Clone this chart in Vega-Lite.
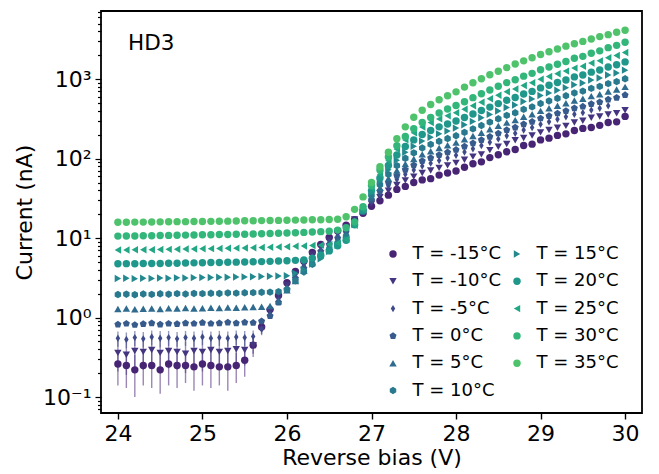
{
"$schema": "https://vega.github.io/schema/vega-lite/v6.json",
"width": 541, "height": 402,
"autosize": {"type": "none"},
"padding": {"left": 101, "top": 11, "right": 17, "bottom": 61},
"background": "white",
"title": {"text": "HD3", "anchor": "start", "frame": "group", "orient": "top", "offset": -41, "dx": 27, "dy": 30, "fontSize": 21.5, "fontWeight": "normal", "baseline": "alphabetic", "color": "black", "font": "DejaVu Sans"},
"config": {
 "font": "DejaVu Sans",
 "view": {"stroke": "black", "strokeWidth": 1.8},
 "axis": {"domain": false, "grid": false, "tickColor": "black", "labelColor": "black", "titleColor": "black", "labelFontSize": 22, "titleFontSize": 22, "titleFontWeight": "normal"}
},
"data": {"values": [
{"T":"-15","V":24,"I":0.26,"lo":0.14,"hi":0.38},{"T":"-15","V":24.1,"I":0.25,"lo":0.13,"hi":0.37},{"T":"-15","V":24.2,"I":0.22,"lo":0.1,"hi":0.34},{"T":"-15","V":24.3,"I":0.25,"lo":0.14,"hi":0.36},{"T":"-15","V":24.4,"I":0.25,"lo":0.13,"hi":0.37},{"T":"-15","V":24.5,"I":0.22,"lo":0.11,"hi":0.35},{"T":"-15","V":24.6,"I":0.26,"lo":0.14,"hi":0.38},{"T":"-15","V":24.7,"I":0.25,"lo":0.13,"hi":0.36},{"T":"-15","V":24.8,"I":0.25,"lo":0.15,"hi":0.36},{"T":"-15","V":24.9,"I":0.24,"lo":0.12,"hi":0.36},{"T":"-15","V":25,"I":0.26,"lo":0.14,"hi":0.37},{"T":"-15","V":25.1,"I":0.25,"lo":0.13,"hi":0.38},{"T":"-15","V":25.2,"I":0.24,"lo":0.14,"hi":0.35},{"T":"-15","V":25.3,"I":0.24,"lo":0.12,"hi":0.36},{"T":"-15","V":25.4,"I":0.25,"lo":0.15,"hi":0.36},{"T":"-15","V":25.5,"I":0.29,"lo":0.18,"hi":0.4},{"T":"-15","V":25.6,"I":0.45,"lo":0.35,"hi":0.55},{"T":"-15","V":25.7,"I":0.76,"lo":0.66,"hi":0.86},{"T":"-15","V":25.8,"I":1.26,"lo":1.16,"hi":1.36},{"T":"-15","V":25.9,"I":1.9},{"T":"-15","V":26,"I":2.75},{"T":"-15","V":26.1,"I":3.8},{"T":"-15","V":26.2,"I":5.1},{"T":"-15","V":26.3,"I":6.6},{"T":"-15","V":26.4,"I":8.3},{"T":"-15","V":26.5,"I":10.2},{"T":"-15","V":26.6,"I":12.3},{"T":"-15","V":26.7,"I":14.5},{"T":"-15","V":26.8,"I":17},{"T":"-15","V":26.9,"I":20.5},{"T":"-15","V":27,"I":25.1},{"T":"-15","V":27.1,"I":29.5},{"T":"-15","V":27.2,"I":34.7},{"T":"-15","V":27.3,"I":41},{"T":"-15","V":27.4,"I":44.7},{"T":"-15","V":27.5,"I":50},{"T":"-15","V":27.6,"I":54},{"T":"-15","V":27.7,"I":56},{"T":"-15","V":27.8,"I":62},{"T":"-15","V":27.9,"I":66},{"T":"-15","V":28,"I":70},{"T":"-15","V":28.1,"I":78},{"T":"-15","V":28.2,"I":86},{"T":"-15","V":28.3,"I":91},{"T":"-15","V":28.4,"I":103},{"T":"-15","V":28.5,"I":112},{"T":"-15","V":28.6,"I":122},{"T":"-15","V":28.7,"I":130},{"T":"-15","V":28.8,"I":146},{"T":"-15","V":28.9,"I":152},{"T":"-15","V":29,"I":172},{"T":"-15","V":29.1,"I":181},{"T":"-15","V":29.2,"I":196},{"T":"-15","V":29.3,"I":205},{"T":"-15","V":29.4,"I":226},{"T":"-15","V":29.5,"I":240},{"T":"-15","V":29.6,"I":246},{"T":"-15","V":29.7,"I":262},{"T":"-15","V":29.8,"I":285},{"T":"-15","V":29.9,"I":290},{"T":"-15","V":30,"I":340},
{"T":"-10","V":24,"I":0.36,"lo":0.21,"hi":0.51},{"T":"-10","V":24.1,"I":0.34,"lo":0.19,"hi":0.5},{"T":"-10","V":24.2,"I":0.38,"lo":0.22,"hi":0.53},{"T":"-10","V":24.3,"I":0.37,"lo":0.22,"hi":0.52},{"T":"-10","V":24.4,"I":0.39,"lo":0.24,"hi":0.54},{"T":"-10","V":24.5,"I":0.36,"lo":0.2,"hi":0.51},{"T":"-10","V":24.6,"I":0.38,"lo":0.23,"hi":0.53},{"T":"-10","V":24.7,"I":0.37,"lo":0.22,"hi":0.51},{"T":"-10","V":24.8,"I":0.35,"lo":0.2,"hi":0.5},{"T":"-10","V":24.9,"I":0.38,"lo":0.23,"hi":0.54},{"T":"-10","V":25,"I":0.37,"lo":0.21,"hi":0.52},{"T":"-10","V":25.1,"I":0.39,"lo":0.24,"hi":0.54},{"T":"-10","V":25.2,"I":0.37,"lo":0.22,"hi":0.52},{"T":"-10","V":25.3,"I":0.38,"lo":0.23,"hi":0.53},{"T":"-10","V":25.4,"I":0.4,"lo":0.25,"hi":0.55},{"T":"-10","V":25.5,"I":0.39,"lo":0.25,"hi":0.53},{"T":"-10","V":25.6,"I":0.45,"lo":0.32,"hi":0.58},{"T":"-10","V":25.7,"I":0.71,"lo":0.6,"hi":0.82},{"T":"-10","V":25.8,"I":1.17,"lo":1.07,"hi":1.27},{"T":"-10","V":25.9,"I":1.78},{"T":"-10","V":26,"I":2.57},{"T":"-10","V":26.1,"I":3.55},{"T":"-10","V":26.2,"I":4.8},{"T":"-10","V":26.3,"I":6.2},{"T":"-10","V":26.4,"I":7.8},{"T":"-10","V":26.5,"I":9.5},{"T":"-10","V":26.6,"I":11.5},{"T":"-10","V":26.7,"I":13.8},{"T":"-10","V":26.8,"I":17.2},{"T":"-10","V":26.9,"I":21.1},{"T":"-10","V":27,"I":26.9},{"T":"-10","V":27.1,"I":32.7},{"T":"-10","V":27.2,"I":39.5},{"T":"-10","V":27.3,"I":46.6},{"T":"-10","V":27.4,"I":53.3},{"T":"-10","V":27.5,"I":59.4},{"T":"-10","V":27.6,"I":65.8},{"T":"-10","V":27.7,"I":71},{"T":"-10","V":27.8,"I":76.5},{"T":"-10","V":27.9,"I":82.2},{"T":"-10","V":28,"I":88.3},{"T":"-10","V":28.1,"I":96.9},{"T":"-10","V":28.2,"I":106},{"T":"-10","V":28.3,"I":113},{"T":"-10","V":28.4,"I":128},{"T":"-10","V":28.5,"I":141},{"T":"-10","V":28.6,"I":153},{"T":"-10","V":28.7,"I":170},{"T":"-10","V":28.8,"I":182},{"T":"-10","V":28.9,"I":195},{"T":"-10","V":29,"I":214},{"T":"-10","V":29.1,"I":229},{"T":"-10","V":29.2,"I":245},{"T":"-10","V":29.3,"I":258},{"T":"-10","V":29.4,"I":285},{"T":"-10","V":29.5,"I":299},{"T":"-10","V":29.6,"I":326},{"T":"-10","V":29.7,"I":339},{"T":"-10","V":29.8,"I":359},{"T":"-10","V":29.9,"I":372},{"T":"-10","V":30,"I":407},
{"T":"-5","V":24,"I":0.55,"lo":0.43,"hi":0.67},{"T":"-5","V":24.1,"I":0.53,"lo":0.41,"hi":0.65},{"T":"-5","V":24.2,"I":0.56,"lo":0.44,"hi":0.68},{"T":"-5","V":24.3,"I":0.54,"lo":0.42,"hi":0.66},{"T":"-5","V":24.4,"I":0.57,"lo":0.45,"hi":0.69},{"T":"-5","V":24.5,"I":0.55,"lo":0.42,"hi":0.68},{"T":"-5","V":24.6,"I":0.56,"lo":0.44,"hi":0.68},{"T":"-5","V":24.7,"I":0.54,"lo":0.43,"hi":0.66},{"T":"-5","V":24.8,"I":0.56,"lo":0.44,"hi":0.68},{"T":"-5","V":24.9,"I":0.55,"lo":0.43,"hi":0.67},{"T":"-5","V":25,"I":0.57,"lo":0.45,"hi":0.69},{"T":"-5","V":25.1,"I":0.55,"lo":0.43,"hi":0.67},{"T":"-5","V":25.2,"I":0.56,"lo":0.44,"hi":0.68},{"T":"-5","V":25.3,"I":0.55,"lo":0.43,"hi":0.67},{"T":"-5","V":25.4,"I":0.57,"lo":0.45,"hi":0.69},{"T":"-5","V":25.5,"I":0.56,"lo":0.44,"hi":0.68},{"T":"-5","V":25.6,"I":0.58,"lo":0.47,"hi":0.69},{"T":"-5","V":25.7,"I":0.72,"lo":0.62,"hi":0.82},{"T":"-5","V":25.8,"I":1.1},{"T":"-5","V":25.9,"I":1.66},{"T":"-5","V":26,"I":2.4},{"T":"-5","V":26.1,"I":3.3},{"T":"-5","V":26.2,"I":4.5},{"T":"-5","V":26.3,"I":5.8},{"T":"-5","V":26.4,"I":7.2},{"T":"-5","V":26.5,"I":8.9},{"T":"-5","V":26.6,"I":10.7},{"T":"-5","V":26.7,"I":12.9},{"T":"-5","V":26.8,"I":16.6},{"T":"-5","V":26.9,"I":21.9},{"T":"-5","V":27,"I":28.8},{"T":"-5","V":27.1,"I":36.1},{"T":"-5","V":27.2,"I":45.1},{"T":"-5","V":27.3,"I":54.5},{"T":"-5","V":27.4,"I":63.7},{"T":"-5","V":27.5,"I":72},{"T":"-5","V":27.6,"I":80.5},{"T":"-5","V":27.7,"I":87.7},{"T":"-5","V":27.8,"I":94.8},{"T":"-5","V":27.9,"I":102},{"T":"-5","V":28,"I":110},{"T":"-5","V":28.1,"I":121},{"T":"-5","V":28.2,"I":133},{"T":"-5","V":28.3,"I":146},{"T":"-5","V":28.4,"I":161},{"T":"-5","V":28.5,"I":177},{"T":"-5","V":28.6,"I":194},{"T":"-5","V":28.7,"I":208},{"T":"-5","V":28.8,"I":229},{"T":"-5","V":28.9,"I":246},{"T":"-5","V":29,"I":270},{"T":"-5","V":29.1,"I":291},{"T":"-5","V":29.2,"I":313},{"T":"-5","V":29.3,"I":336},{"T":"-5","V":29.4,"I":361},{"T":"-5","V":29.5,"I":379},{"T":"-5","V":29.6,"I":408},{"T":"-5","V":29.7,"I":430},{"T":"-5","V":29.8,"I":463},
{"T":"0","V":24,"I":0.82},{"T":"0","V":24.1,"I":0.84},{"T":"0","V":24.2,"I":0.81},{"T":"0","V":24.3,"I":0.83},{"T":"0","V":24.4,"I":0.85},{"T":"0","V":24.5,"I":0.82},{"T":"0","V":24.6,"I":0.84},{"T":"0","V":24.7,"I":0.83},{"T":"0","V":24.8,"I":0.85},{"T":"0","V":24.9,"I":0.84},{"T":"0","V":25,"I":0.86},{"T":"0","V":25.1,"I":0.84},{"T":"0","V":25.2,"I":0.85},{"T":"0","V":25.3,"I":0.87},{"T":"0","V":25.4,"I":0.85},{"T":"0","V":25.5,"I":0.87},{"T":"0","V":25.6,"I":0.86},{"T":"0","V":25.7,"I":0.9},{"T":"0","V":25.8,"I":1.05},{"T":"0","V":25.9,"I":1.55},{"T":"0","V":26,"I":2.24},{"T":"0","V":26.1,"I":3.1},{"T":"0","V":26.2,"I":4.17},{"T":"0","V":26.3,"I":5.4},{"T":"0","V":26.4,"I":6.8},{"T":"0","V":26.5,"I":8.3},{"T":"0","V":26.6,"I":10},{"T":"0","V":26.7,"I":12},{"T":"0","V":26.8,"I":15.7},{"T":"0","V":26.9,"I":21.5},{"T":"0","V":27,"I":30.3},{"T":"0","V":27.1,"I":38.9},{"T":"0","V":27.2,"I":49.7},{"T":"0","V":27.3,"I":61.1},{"T":"0","V":27.4,"I":72.4},{"T":"0","V":27.5,"I":82.8},{"T":"0","V":27.6,"I":93.3},{"T":"0","V":27.7,"I":102},{"T":"0","V":27.8,"I":111},{"T":"0","V":27.9,"I":120},{"T":"0","V":28,"I":129},{"T":"0","V":28.1,"I":142},{"T":"0","V":28.2,"I":156},{"T":"0","V":28.3,"I":172},{"T":"0","V":28.4,"I":189},{"T":"0","V":28.5,"I":208},{"T":"0","V":28.6,"I":229},{"T":"0","V":28.7,"I":247},{"T":"0","V":28.8,"I":271},{"T":"0","V":28.9,"I":292},{"T":"0","V":29,"I":321},{"T":"0","V":29.1,"I":345},{"T":"0","V":29.2,"I":371},{"T":"0","V":29.3,"I":398},{"T":"0","V":29.4,"I":430},{"T":"0","V":29.5,"I":452},{"T":"0","V":29.6,"I":488},{"T":"0","V":29.7,"I":514},{"T":"0","V":29.8,"I":555},{"T":"0","V":29.9,"I":585},{"T":"0","V":30,"I":631},
{"T":"5","V":24,"I":1.28},{"T":"5","V":24.1,"I":1.3},{"T":"5","V":24.2,"I":1.27},{"T":"5","V":24.3,"I":1.29},{"T":"5","V":24.4,"I":1.3},{"T":"5","V":24.5,"I":1.28},{"T":"5","V":24.6,"I":1.31},{"T":"5","V":24.7,"I":1.3},{"T":"5","V":24.8,"I":1.32},{"T":"5","V":24.9,"I":1.3},{"T":"5","V":25,"I":1.31},{"T":"5","V":25.1,"I":1.33},{"T":"5","V":25.2,"I":1.32},{"T":"5","V":25.3,"I":1.34},{"T":"5","V":25.4,"I":1.33},{"T":"5","V":25.5,"I":1.35},{"T":"5","V":25.6,"I":1.36},{"T":"5","V":25.7,"I":1.37},{"T":"5","V":25.8,"I":1.4},{"T":"5","V":25.9,"I":1.6},{"T":"5","V":26,"I":2.2},{"T":"5","V":26.1,"I":2.88},{"T":"5","V":26.2,"I":3.9},{"T":"5","V":26.3,"I":5},{"T":"5","V":26.4,"I":6.3},{"T":"5","V":26.5,"I":7.8},{"T":"5","V":26.6,"I":9.3},{"T":"5","V":26.7,"I":11.2},{"T":"5","V":26.8,"I":15.1},{"T":"5","V":26.9,"I":21.7},{"T":"5","V":27,"I":32.3},{"T":"5","V":27.1,"I":42.8},{"T":"5","V":27.2,"I":56.2},{"T":"5","V":27.3,"I":70.8},{"T":"5","V":27.4,"I":85.5},{"T":"5","V":27.5,"I":99},{"T":"5","V":27.6,"I":113},{"T":"5","V":27.7,"I":124},{"T":"5","V":27.8,"I":136},{"T":"5","V":27.9,"I":147},{"T":"5","V":28,"I":159},{"T":"5","V":28.1,"I":175},{"T":"5","V":28.2,"I":193},{"T":"5","V":28.3,"I":212},{"T":"5","V":28.4,"I":234},{"T":"5","V":28.5,"I":258},{"T":"5","V":28.6,"I":284},{"T":"5","V":28.7,"I":305},{"T":"5","V":28.8,"I":337},{"T":"5","V":28.9,"I":362},{"T":"5","V":29,"I":399},{"T":"5","V":29.1,"I":430},{"T":"5","V":29.2,"I":462},{"T":"5","V":29.3,"I":498},{"T":"5","V":29.4,"I":538},{"T":"5","V":29.5,"I":566},{"T":"5","V":29.6,"I":612},{"T":"5","V":29.7,"I":647},{"T":"5","V":29.8,"I":700},{"T":"5","V":29.9,"I":740},{"T":"5","V":30,"I":800},
{"T":"10","V":24,"I":1.95},{"T":"10","V":24.1,"I":1.97},{"T":"10","V":24.2,"I":1.94},{"T":"10","V":24.3,"I":1.98},{"T":"10","V":24.4,"I":1.96},{"T":"10","V":24.5,"I":1.99},{"T":"10","V":24.6,"I":1.97},{"T":"10","V":24.7,"I":2},{"T":"10","V":24.8,"I":1.98},{"T":"10","V":24.9,"I":2.01},{"T":"10","V":25,"I":2},{"T":"10","V":25.1,"I":2.02},{"T":"10","V":25.2,"I":2.01},{"T":"10","V":25.3,"I":2.04},{"T":"10","V":25.4,"I":2.03},{"T":"10","V":25.5,"I":2.05},{"T":"10","V":25.6,"I":2.06},{"T":"10","V":25.7,"I":2.08},{"T":"10","V":25.8,"I":2.09},{"T":"10","V":25.9,"I":2.12},{"T":"10","V":26,"I":2.25},{"T":"10","V":26.1,"I":2.9},{"T":"10","V":26.2,"I":3.75},{"T":"10","V":26.3,"I":4.68},{"T":"10","V":26.4,"I":5.9},{"T":"10","V":26.5,"I":7.2},{"T":"10","V":26.6,"I":8.7},{"T":"10","V":26.7,"I":10.5},{"T":"10","V":26.8,"I":15},{"T":"10","V":26.9,"I":21.9},{"T":"10","V":27,"I":34.4},{"T":"10","V":27.1,"I":47},{"T":"10","V":27.2,"I":63.4},{"T":"10","V":27.3,"I":81.7},{"T":"10","V":27.4,"I":101},{"T":"10","V":27.5,"I":118},{"T":"10","V":27.6,"I":136},{"T":"10","V":27.7,"I":151},{"T":"10","V":27.8,"I":165},{"T":"10","V":27.9,"I":179},{"T":"10","V":28,"I":194},{"T":"10","V":28.1,"I":214},{"T":"10","V":28.2,"I":237},{"T":"10","V":28.3,"I":261},{"T":"10","V":28.4,"I":288},{"T":"10","V":28.5,"I":317},{"T":"10","V":28.6,"I":350},{"T":"10","V":28.7,"I":377},{"T":"10","V":28.8,"I":416},{"T":"10","V":28.9,"I":448},{"T":"10","V":29,"I":494},{"T":"10","V":29.1,"I":532},{"T":"10","V":29.2,"I":574},{"T":"10","V":29.3,"I":618},{"T":"10","V":29.4,"I":670},{"T":"10","V":29.5,"I":706},{"T":"10","V":29.6,"I":766},{"T":"10","V":29.7,"I":811},{"T":"10","V":29.8,"I":879},{"T":"10","V":29.9,"I":931},{"T":"10","V":30,"I":1009},
{"T":"15","V":24,"I":3.1},{"T":"15","V":24.1,"I":3.12},{"T":"15","V":24.2,"I":3.09},{"T":"15","V":24.3,"I":3.13},{"T":"15","V":24.4,"I":3.11},{"T":"15","V":24.5,"I":3.15},{"T":"15","V":24.6,"I":3.13},{"T":"15","V":24.7,"I":3.16},{"T":"15","V":24.8,"I":3.15},{"T":"15","V":24.9,"I":3.18},{"T":"15","V":25,"I":3.2},{"T":"15","V":25.1,"I":3.19},{"T":"15","V":25.2,"I":3.22},{"T":"15","V":25.3,"I":3.21},{"T":"15","V":25.4,"I":3.24},{"T":"15","V":25.5,"I":3.25},{"T":"15","V":25.6,"I":3.27},{"T":"15","V":25.7,"I":3.29},{"T":"15","V":25.8,"I":3.31},{"T":"15","V":25.9,"I":3.33},{"T":"15","V":26,"I":3.36},{"T":"15","V":26.1,"I":3.6},{"T":"15","V":26.2,"I":4},{"T":"15","V":26.3,"I":4.7},{"T":"15","V":26.4,"I":5.5},{"T":"15","V":26.5,"I":6.8},{"T":"15","V":26.6,"I":8.1},{"T":"15","V":26.7,"I":9.8},{"T":"15","V":26.8,"I":14.8},{"T":"15","V":26.9,"I":22.2},{"T":"15","V":27,"I":36.8},{"T":"15","V":27.1,"I":51.9},{"T":"15","V":27.2,"I":72.3},{"T":"15","V":27.3,"I":95.5},{"T":"15","V":27.4,"I":120},{"T":"15","V":27.5,"I":143},{"T":"15","V":27.6,"I":166},{"T":"15","V":27.7,"I":186},{"T":"15","V":27.8,"I":205},{"T":"15","V":27.9,"I":222},{"T":"15","V":28,"I":242},{"T":"15","V":28.1,"I":267},{"T":"15","V":28.2,"I":294},{"T":"15","V":28.3,"I":326},{"T":"15","V":28.4,"I":360},{"T":"15","V":28.5,"I":397},{"T":"15","V":28.6,"I":439},{"T":"15","V":28.7,"I":473},{"T":"15","V":28.8,"I":522},{"T":"15","V":28.9,"I":564},{"T":"15","V":29,"I":622},{"T":"15","V":29.1,"I":671},{"T":"15","V":29.2,"I":724},{"T":"15","V":29.3,"I":782},{"T":"15","V":29.4,"I":849},{"T":"15","V":29.5,"I":895},{"T":"15","V":29.6,"I":973},{"T":"15","V":29.7,"I":1035},{"T":"15","V":29.8,"I":1125},{"T":"15","V":29.9,"I":1194},{"T":"15","V":30,"I":1297},
{"T":"20","V":24,"I":4.75},{"T":"20","V":24.1,"I":4.77},{"T":"20","V":24.2,"I":4.76},{"T":"20","V":24.3,"I":4.79},{"T":"20","V":24.4,"I":4.78},{"T":"20","V":24.5,"I":4.8},{"T":"20","V":24.6,"I":4.82},{"T":"20","V":24.7,"I":4.83},{"T":"20","V":24.8,"I":4.85},{"T":"20","V":24.9,"I":4.88},{"T":"20","V":25,"I":4.9},{"T":"20","V":25.1,"I":4.92},{"T":"20","V":25.2,"I":4.94},{"T":"20","V":25.3,"I":4.96},{"T":"20","V":25.4,"I":4.98},{"T":"20","V":25.5,"I":5},{"T":"20","V":25.6,"I":5.03},{"T":"20","V":25.7,"I":5.06},{"T":"20","V":25.8,"I":5.1},{"T":"20","V":25.9,"I":5.15},{"T":"20","V":26,"I":5.2},{"T":"20","V":26.1,"I":5.25},{"T":"20","V":26.2,"I":5.3},{"T":"20","V":26.3,"I":5.6},{"T":"20","V":26.4,"I":6.1},{"T":"20","V":26.5,"I":6.9},{"T":"20","V":26.6,"I":8},{"T":"20","V":26.7,"I":9.4},{"T":"20","V":26.8,"I":14.7},{"T":"20","V":26.9,"I":22.4},{"T":"20","V":27,"I":39.3},{"T":"20","V":27.1,"I":57.1},{"T":"20","V":27.2,"I":81.8},{"T":"20","V":27.3,"I":111},{"T":"20","V":27.4,"I":142},{"T":"20","V":27.5,"I":172},{"T":"20","V":27.6,"I":201},{"T":"20","V":27.7,"I":226},{"T":"20","V":27.8,"I":251},{"T":"20","V":27.9,"I":273},{"T":"20","V":28,"I":298},{"T":"20","V":28.1,"I":329},{"T":"20","V":28.2,"I":364},{"T":"20","V":28.3,"I":403},{"T":"20","V":28.4,"I":445},{"T":"20","V":28.5,"I":492},{"T":"20","V":28.6,"I":543},{"T":"20","V":28.7,"I":587},{"T":"20","V":28.8,"I":649},{"T":"20","V":28.9,"I":701},{"T":"20","V":29,"I":776},{"T":"20","V":29.1,"I":838},{"T":"20","V":29.2,"I":906},{"T":"20","V":29.3,"I":977},{"T":"20","V":29.4,"I":1067},{"T":"20","V":29.5,"I":1125},{"T":"20","V":29.6,"I":1225},{"T":"20","V":29.7,"I":1303},{"T":"20","V":29.8,"I":1422},{"T":"20","V":29.9,"I":1514},{"T":"20","V":30,"I":1648},
{"T":"25","V":24,"I":7.1},{"T":"25","V":24.1,"I":7.08},{"T":"25","V":24.2,"I":7.12},{"T":"25","V":24.3,"I":7.15},{"T":"25","V":24.4,"I":7.13},{"T":"25","V":24.5,"I":7.2},{"T":"25","V":24.6,"I":7.22},{"T":"25","V":24.7,"I":7.25},{"T":"25","V":24.8,"I":7.28},{"T":"25","V":24.9,"I":7.3},{"T":"25","V":25,"I":7.35},{"T":"25","V":25.1,"I":7.37},{"T":"25","V":25.2,"I":7.4},{"T":"25","V":25.3,"I":7.44},{"T":"25","V":25.4,"I":7.47},{"T":"25","V":25.5,"I":7.5},{"T":"25","V":25.6,"I":7.55},{"T":"25","V":25.7,"I":7.6},{"T":"25","V":25.8,"I":7.66},{"T":"25","V":25.9,"I":7.72},{"T":"25","V":26,"I":7.8},{"T":"25","V":26.1,"I":7.88},{"T":"25","V":26.2,"I":7.96},{"T":"25","V":26.3,"I":8.05},{"T":"25","V":26.4,"I":8.15},{"T":"25","V":26.5,"I":8.3},{"T":"25","V":26.6,"I":8.7},{"T":"25","V":26.7,"I":9.6},{"T":"25","V":26.8,"I":14.5},{"T":"25","V":26.9,"I":22.8},{"T":"25","V":27,"I":42.2},{"T":"25","V":27.1,"I":63.7},{"T":"25","V":27.2,"I":94.2},{"T":"25","V":27.3,"I":131},{"T":"25","V":27.4,"I":172},{"T":"25","V":27.5,"I":211},{"T":"25","V":27.6,"I":250},{"T":"25","V":27.7,"I":284},{"T":"25","V":27.8,"I":316},{"T":"25","V":27.9,"I":345},{"T":"25","V":28,"I":377},{"T":"25","V":28.1,"I":418},{"T":"25","V":28.2,"I":462},{"T":"25","V":28.3,"I":512},{"T":"25","V":28.4,"I":566},{"T":"25","V":28.5,"I":627},{"T":"25","V":28.6,"I":695},{"T":"25","V":28.7,"I":752},{"T":"25","V":28.8,"I":832},{"T":"25","V":28.9,"I":899},{"T":"25","V":29,"I":995},{"T":"25","V":29.1,"I":1077},{"T":"25","V":29.2,"I":1167},{"T":"25","V":29.3,"I":1262},{"T":"25","V":29.4,"I":1377},{"T":"25","V":29.5,"I":1455},{"T":"25","V":29.6,"I":1592},{"T":"25","V":29.7,"I":1698},{"T":"25","V":29.8,"I":1854},{"T":"25","V":29.9,"I":1982},{"T":"25","V":30,"I":2163},
{"T":"30","V":24,"I":10.6},{"T":"30","V":24.1,"I":10.62},{"T":"30","V":24.2,"I":10.65},{"T":"30","V":24.3,"I":10.68},{"T":"30","V":24.4,"I":10.7},{"T":"30","V":24.5,"I":10.8},{"T":"30","V":24.6,"I":10.82},{"T":"30","V":24.7,"I":10.86},{"T":"30","V":24.8,"I":10.9},{"T":"30","V":24.9,"I":10.95},{"T":"30","V":25,"I":11},{"T":"30","V":25.1,"I":11.04},{"T":"30","V":25.2,"I":11.08},{"T":"30","V":25.3,"I":11.12},{"T":"30","V":25.4,"I":11.16},{"T":"30","V":25.5,"I":11.2},{"T":"30","V":25.6,"I":11.28},{"T":"30","V":25.7,"I":11.35},{"T":"30","V":25.8,"I":11.42},{"T":"30","V":25.9,"I":11.5},{"T":"30","V":26,"I":11.6},{"T":"30","V":26.1,"I":11.7},{"T":"30","V":26.2,"I":11.8},{"T":"30","V":26.3,"I":11.95},{"T":"30","V":26.4,"I":12.05},{"T":"30","V":26.5,"I":12.2},{"T":"30","V":26.6,"I":12.6},{"T":"30","V":26.7,"I":13.5},{"T":"30","V":26.8,"I":16},{"T":"30","V":26.9,"I":24.8},{"T":"30","V":27,"I":45.8},{"T":"30","V":27.1,"I":71.8},{"T":"30","V":27.2,"I":105},{"T":"30","V":27.3,"I":145},{"T":"30","V":27.4,"I":190},{"T":"30","V":27.5,"I":238},{"T":"30","V":27.6,"I":285},{"T":"30","V":27.7,"I":330},{"T":"30","V":27.8,"I":375},{"T":"30","V":27.9,"I":420},{"T":"30","V":28,"I":465},{"T":"30","V":28.1,"I":520},{"T":"30","V":28.2,"I":585},{"T":"30","V":28.3,"I":655},{"T":"30","V":28.4,"I":730},{"T":"30","V":28.5,"I":815},{"T":"30","V":28.6,"I":905},{"T":"30","V":28.7,"I":984},{"T":"30","V":28.8,"I":1091},{"T":"30","V":28.9,"I":1183},{"T":"30","V":29,"I":1312},{"T":"30","V":29.1,"I":1422},{"T":"30","V":29.2,"I":1538},{"T":"30","V":29.3,"I":1667},{"T":"30","V":29.4,"I":1828},{"T":"30","V":29.5,"I":1936},{"T":"30","V":29.6,"I":2118},{"T":"30","V":29.7,"I":2270},{"T":"30","V":29.8,"I":2489},{"T":"30","V":29.9,"I":2661},{"T":"30","V":30,"I":2917},
{"T":"35","V":24,"I":15.8},{"T":"35","V":24.1,"I":15.85},{"T":"35","V":24.2,"I":15.9},{"T":"35","V":24.3,"I":15.9},{"T":"35","V":24.4,"I":15.95},{"T":"35","V":24.5,"I":16},{"T":"35","V":24.6,"I":16.05},{"T":"35","V":24.7,"I":16.1},{"T":"35","V":24.8,"I":16.1},{"T":"35","V":24.9,"I":16.15},{"T":"35","V":25,"I":16.2},{"T":"35","V":25.1,"I":16.25},{"T":"35","V":25.2,"I":16.3},{"T":"35","V":25.3,"I":16.35},{"T":"35","V":25.4,"I":16.4},{"T":"35","V":25.5,"I":16.5},{"T":"35","V":25.6,"I":16.55},{"T":"35","V":25.7,"I":16.6},{"T":"35","V":25.8,"I":16.65},{"T":"35","V":25.9,"I":16.7},{"T":"35","V":26,"I":16.8},{"T":"35","V":26.1,"I":16.85},{"T":"35","V":26.2,"I":16.9},{"T":"35","V":26.3,"I":17},{"T":"35","V":26.4,"I":17.05},{"T":"35","V":26.5,"I":17.1},{"T":"35","V":26.6,"I":17.3},{"T":"35","V":26.7,"I":18.6},{"T":"35","V":26.8,"I":23},{"T":"35","V":26.9,"I":33},{"T":"35","V":27,"I":50},{"T":"35","V":27.1,"I":79},{"T":"35","V":27.2,"I":120},{"T":"35","V":27.3,"I":178},{"T":"35","V":27.4,"I":251},{"T":"35","V":27.5,"I":331},{"T":"35","V":27.6,"I":407},{"T":"35","V":27.7,"I":479},{"T":"35","V":27.8,"I":550},{"T":"35","V":27.9,"I":617},{"T":"35","V":28,"I":692},{"T":"35","V":28.1,"I":794},{"T":"35","V":28.2,"I":902},{"T":"35","V":28.3,"I":1012},{"T":"35","V":28.4,"I":1135},{"T":"35","V":28.5,"I":1259},{"T":"35","V":28.6,"I":1396},{"T":"35","V":28.7,"I":1549},{"T":"35","V":28.8,"I":1698},{"T":"35","V":28.9,"I":1862},{"T":"35","V":29,"I":2042},{"T":"35","V":29.1,"I":2213},{"T":"35","V":29.2,"I":2399},{"T":"35","V":29.3,"I":2600},{"T":"35","V":29.4,"I":2786},{"T":"35","V":29.5,"I":2985},{"T":"35","V":29.6,"I":3199},{"T":"35","V":29.7,"I":3428},{"T":"35","V":29.8,"I":3631},{"T":"35","V":29.9,"I":3890},{"T":"35","V":30,"I":4121}
]},
"encoding": {
 "x": {"field": "V", "type": "quantitative", "scale": {"domain": [23.8, 30.2], "nice": false, "zero": false},
   "axis": {"title": "Reverse bias (V)", "values": [24,25,26,27,28,29,30], "format": "d", "tickSize": 6, "tickWidth": 1.4, "labelPadding": 4, "titlePadding": 3}}
},
"layer": [
 {
  "transform": [{"filter": "isValid(datum.lo)"}],
  "mark": {"type": "rule", "strokeWidth": 1.4, "opacity": 0.55},
  "encoding": {
   "y": {"field": "lo", "type": "quantitative", "scale": {"type": "log", "domain": [0.063, 7200], "nice": false}, "title": "Current (nA)"},
   "y2": {"field": "hi"},
   "stroke": {"field": "T", "type": "nominal", "legend": null,
     "scale": {"domain": ["35","30","25","20","15","10","5","0","-5","-10","-15"],
               "range": ["#4ec36b","#32b67a","#22a785","#1f988b","#23898e","#297a8e","#2f6b8e","#375b8d","#3e4a89","#453581","#482475"]}}
  }
 },
 {
  "mark": {"type": "point", "filled": true, "opacity": 1, "strokeWidth": 0},
  "encoding": {
   "y": {"field": "I", "type": "quantitative", "scale": {"type": "log", "domain": [0.063, 7200], "nice": false},
     "axis": {"title": "Current (nA)", "values": [0.07,0.08,0.09,0.1,0.2,0.3,0.4,0.5,0.6,0.7,0.8,0.9,1,2,3,4,5,6,7,8,9,10,20,30,40,50,60,70,80,90,100,200,300,400,500,600,700,800,900,1000,2000,3000,4000,5000,6000,7000],
       "labelOverlap": false, "labelPadding": 4, "titlePadding": 6,
       "labelExpr": "abs(log(datum.value)/LN10-round(log(datum.value)/LN10))<0.01 ? '10'+['⁻¹','⁰','¹','²','³'][round(log(datum.value)/LN10)+1] : ''",
       "tickSize": {"condition": {"test": "abs(log(datum.value)/LN10-round(log(datum.value)/LN10))<0.01", "value": 6}, "value": 3.5},
       "tickWidth": 1.2}},
   "color": {"field": "T", "type": "nominal",
     "scale": {"domain": ["-15","-10","-5","0","5","10","15","20","25","30","35"],
               "range": ["#482475","#453581","#3e4a89","#375b8d","#2f6b8e","#297a8e","#23898e","#1f988b","#22a785","#32b67a","#4ec36b"]},
     "legend": {"title": null, "orient": "none", "legendX": 283, "legendY": 234, "columns": 2, "labelFontSize": 18, "labelColor": "black", "rowPadding": 9.3, "columnPadding": 7, "labelOffset": 10.5, "padding": 0, "labelExpr": "'T = ' + datum.label + '°C'"}},
   "shape": {"field": "T", "type": "nominal",
     "scale": {"domain": ["-15","-10","-5","0","5","10","15","20","25","30","35"],
               "range": ["circle","triangle-down","M0,-1L0.6,0L0,1L-0.6,0Z","M0,-1L0.95,-0.31L0.59,0.81L-0.59,0.81L-0.95,-0.31Z","triangle-up","M0,-1L0.87,-0.5L0.87,0.5L0,1L-0.87,0.5L-0.87,-0.5Z","triangle-right","circle","triangle-left","circle","circle"]},
     "legend": {"title": null, "orient": "none", "legendX": 283, "legendY": 234, "columns": 2, "labelFontSize": 18, "labelColor": "black", "rowPadding": 9.3, "columnPadding": 7, "labelOffset": 10.5, "padding": 0, "labelExpr": "'T = ' + datum.label + '°C'"}},
   "size": {"field": "T", "type": "nominal",
     "scale": {"domain": ["-15","-10","-5","0","5","10","15","20","25","30","35"],
               "range": [55,55,55,55,55,34,55,24,55,45,24]},
     "legend": {"title": null, "orient": "none", "legendX": 283, "legendY": 234, "columns": 2, "labelFontSize": 18, "labelColor": "black", "rowPadding": 9.3, "columnPadding": 7, "labelOffset": 10.5, "padding": 0, "labelExpr": "'T = ' + datum.label + '°C'"}}
  }
 }
]
}
